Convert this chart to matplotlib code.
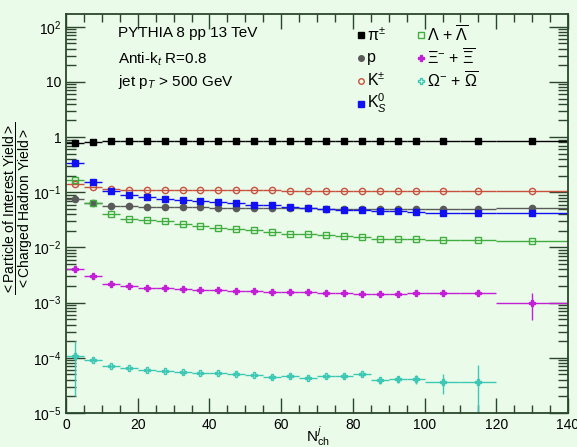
import numpy as np
import matplotlib
matplotlib.use("Agg")
import matplotlib.pyplot as plt
from matplotlib.ticker import FuncFormatter, LogLocator, MultipleLocator

plt.rcParams['font.family'] = ['Liberation Sans', 'DejaVu Sans']
plt.rcParams['mathtext.fontset'] = 'custom'
plt.rcParams['mathtext.rm'] = 'Liberation Sans'
plt.rcParams['mathtext.it'] = 'Liberation Sans:italic'
plt.rcParams['mathtext.sf'] = 'Liberation Sans'

# bin centres and half widths in N_ch^j
x = [2.5, 7.5, 12.5, 17.5, 22.5, 27.5, 32.5, 37.5, 42.5, 47.5, 52.5, 57.5,
     62.5, 67.5, 72.5, 77.5, 82.5, 87.5, 92.5, 97.5, 105, 115, 130]
xerr = [2.5] * 20 + [5, 5, 10]

pi = [0.78, 0.83, 0.84, 0.84, 0.84, 0.84, 0.84, 0.84, 0.84, 0.84, 0.84, 0.84,
      0.84, 0.84, 0.84, 0.84, 0.84, 0.84, 0.84, 0.84, 0.84, 0.84, 0.84]
proton = [0.074, 0.064, 0.057, 0.056, 0.054, 0.054, 0.053, 0.053, 0.052, 0.052,
          0.052, 0.051, 0.051, 0.051, 0.050, 0.050, 0.050, 0.049, 0.050, 0.050,
          0.050, 0.050, 0.051]
kch = [0.139, 0.125, 0.114, 0.112, 0.111, 0.111, 0.110, 0.110, 0.109, 0.109,
       0.108, 0.108, 0.107, 0.107, 0.107, 0.106, 0.106, 0.106, 0.106, 0.105,
       0.105, 0.105, 0.105]
k0s = [0.34, 0.153, 0.105, 0.089, 0.082, 0.076, 0.072, 0.070, 0.068, 0.064,
       0.060, 0.058, 0.055, 0.052, 0.050, 0.048, 0.047, 0.046, 0.045, 0.044,
       0.043, 0.043, 0.043]
lam = [0.164, 0.063, 0.040, 0.0325, 0.031, 0.030, 0.0265, 0.0245, 0.0223,
       0.0214, 0.0203, 0.0191, 0.0179, 0.0172, 0.0165, 0.0159, 0.0154, 0.0145,
       0.0142, 0.0145, 0.0136, 0.0138, 0.0131]
xi = [0.0040, 0.0030, 0.0022, 0.00197, 0.00187, 0.00182, 0.00178, 0.00172,
      0.00168, 0.00166, 0.00166, 0.00155, 0.00155, 0.00153, 0.00151, 0.00151,
      0.00146, 0.00143, 0.00141, 0.00150, 0.00152, 0.00150, 0.00098]
xi_err = [0.0003, 0.0002, 0.0001, 0.0001, 0.0001, 0.0001, 0.0001, 0.0001,
          0.0001, 0.0001, 0.0001, 0.0001, 0.0001, 0.0001, 0.0001, 0.0001,
          0.0001, 0.0001, 0.0001, 0.0001, 0.0001, 0.00015, 0.0005]
omega = [1.1e-4, 9.2e-5, 7.1e-5, 6.5e-5, 6.1e-5, 5.8e-5, 5.5e-5, 5.3e-5,
         5.3e-5, 5.2e-5, 4.9e-5, 4.5e-5, 4.7e-5, 4.4e-5, 4.6e-5, 4.6e-5,
         5.0e-5, 3.9e-5, 4.1e-5, 4.1e-5, 3.7e-5, 3.7e-5, np.nan]
omega_err = [9e-5, 6e-6, 4e-6, 3e-6, 3e-6, 3e-6, 3e-6, 3e-6, 3e-6, 3e-6,
             3e-6, 3e-6, 3e-6, 3e-6, 3e-6, 4e-6, 4e-6, 5e-6, 6e-6, 8e-6,
             1.5e-5, 3.6e-5, np.nan]

labels = [r'π$^{\pm}$', 'p', r'K$^{\pm}$', r'K$^{0}_{S}$',
          r'Λ + $\overline{\mathrm{Λ}}$', r'Ξ$^{-}$ + $\overline{\mathrm{Ξ}}$',
          r'Ω$^{-}$ + $\overline{\mathrm{Ω}}$']
values = [pi, proton, kch, k0s, lam, xi, omega]
errors = [None, None, None, None, None, xi_err, omega_err]
colors = ['#000000', '#5a5a5a', '#c8503c', '#1010f0', '#3fae3f', '#c21fd6', '#3cc8b4']
markers = ['s', 'o', 'o', 's', 's', 'P', 'P']
filled = [True, True, False, True, False, True, False]

bg = '#ebfbea'
fig = plt.figure(figsize=(5.77, 4.47), dpi=100, facecolor=bg)
ax = fig.add_axes([0.1144, 0.076, 0.870, 0.8927], facecolor=bg)

for v, e, c, m, f in zip(values, errors, colors, markers, filled):
    ax.errorbar(x, v, xerr=xerr, yerr=e, fmt=m, color=c, ecolor=c,
                mfc=c if f else 'none', mec=c, ms=4.5, mew=1.0,
                elinewidth=1.0, capsize=0)

ax.set_yscale('log')
ax.set_xlim(0, 140)
ax.set_ylim(1e-5, 170)

def fmt(v, pos):
    if abs(v - 1) < 1e-9:
        return '1'
    if abs(v - 10) < 1e-9:
        return '10'
    return r'$10^{%d}$' % int(round(np.log10(v)))

ax.yaxis.set_major_formatter(FuncFormatter(fmt))
ax.yaxis.set_major_locator(LogLocator(base=10, numticks=20))
ax.yaxis.set_minor_locator(LogLocator(base=10, subs=np.arange(2, 10), numticks=20))
ax.xaxis.set_major_locator(MultipleLocator(20))
ax.xaxis.set_minor_locator(MultipleLocator(5))

fc = '#2b472b'
for s in ax.spines.values():
    s.set_color(fc)
    s.set_linewidth(1.3)
ax.tick_params(which='both', direction='in', top=True, right=True, colors=fc,
               labelcolor='black', labelsize=10)
ax.tick_params(axis='y', which='major', length=14, width=1)
ax.tick_params(axis='y', which='minor', length=7, width=1)
ax.tick_params(axis='x', which='major', length=11, width=1)
ax.tick_params(axis='x', which='minor', length=6, width=1)

ax.text(0.104, 0.952, 'PYTHIA 8 pp 13 TeV', transform=ax.transAxes, fontsize=11, va='center')
ax.text(0.104, 0.887, r'Anti-k$_{t}$ R=0.8', transform=ax.transAxes, fontsize=11, va='center')
ax.text(0.104, 0.830, r'jet p$_{T}$ > 500 GeV', transform=ax.transAxes, fontsize=11, va='center')

# legend, two columns
rows = [0.947, 0.890, 0.833, 0.775]
cols = [0.588, 0.707]
for i, (lab, c, m, f) in enumerate(zip(labels, colors, markers, filled)):
    cx = cols[i // 4]
    cy = rows[i % 4]
    ax.plot([cx], [cy], m, transform=ax.transAxes, color=c,
            mfc=c if f else 'none', mec=c, ms=4, mew=1.0, clip_on=False)
    ax.text(cx + 0.012, cy, lab, transform=ax.transAxes, fontsize=11.5, va='center')

fig.text(0.032, 0.535,
         r'$\dfrac{\mathrm{<Particle\ of\ Interest\ Yield>}}{\mathrm{<Charged\ Hadron\ Yield>}}$',
         rotation=90, fontsize=10, ha='center', va='center')
fig.text(0.551, 0.009, r'N$^{j}_{\mathrm{ch}}$', fontsize=11, ha='center', va='baseline')

fig.savefig('out.png', dpi=100, facecolor=bg)
